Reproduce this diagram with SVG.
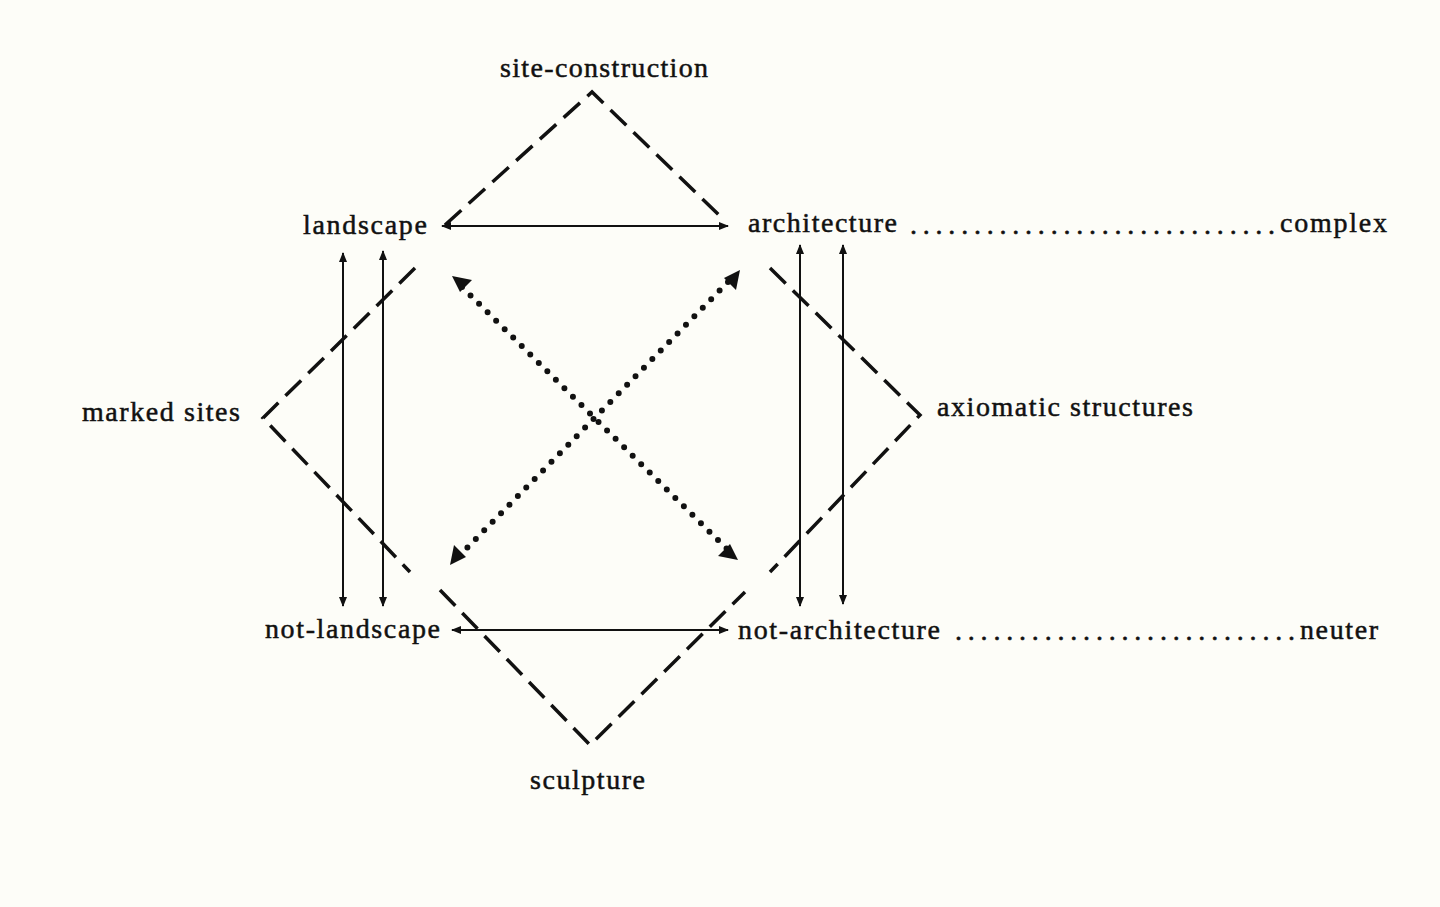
<svg xmlns="http://www.w3.org/2000/svg" width="1440" height="907" viewBox="0 0 1440 907">
<defs>
<marker id="ah" viewBox="0 0 10 10" refX="9" refY="5" markerWidth="10" markerHeight="10" markerUnits="userSpaceOnUse" orient="auto-start-reverse"><path d="M0,1 L10,5 L0,9 z" fill="#111"/></marker>
</defs>
<style>
text{font-family:"Liberation Serif",serif;font-size:28px;fill:#111;stroke:#111;stroke-width:0.5}
.d{fill:none;stroke:#111;stroke-width:3.5;stroke-dasharray:22 10}
.a{stroke:#111;stroke-width:2;fill:none}
.o{fill:none;stroke:#111;stroke-width:6;stroke-dasharray:0 12;stroke-linecap:round}
</style>
<rect width="1440" height="907" fill="#fdfdf8"/>
<g id="connectors">
<polyline class="d" points="445,225 592,92 722,218"/>
<polyline class="d" points="415,268 263,418 410,572"/>
<polyline class="d" points="770,268 920,415 770,572"/>
<polyline class="d" points="440,590 590,745 745,592"/>
<line class="a" x1="442" y1="226" x2="728" y2="226" marker-start="url(#ah)" marker-end="url(#ah)"/>
<line class="a" x1="452" y1="630" x2="728" y2="630" marker-start="url(#ah)" marker-end="url(#ah)"/>
<line class="a" x1="343" y1="253" x2="343" y2="606" marker-start="url(#ah)" marker-end="url(#ah)"/>
<line class="a" x1="383" y1="251" x2="383" y2="606" marker-start="url(#ah)" marker-end="url(#ah)"/>
<line class="a" x1="800" y1="245" x2="800" y2="606" marker-start="url(#ah)" marker-end="url(#ah)"/>
<line class="a" x1="843" y1="245" x2="843" y2="604" marker-start="url(#ah)" marker-end="url(#ah)"/>
<line class="o" x1="462" y1="287" x2="728" y2="550"/>
<line class="o" x1="728" y1="282" x2="462" y2="553"/>
<path d="M452,276 l20,4 -12,12z M738,560 l-20,-4 12,-12z M740,270 l-4,20 -12,-12z M450,565 l4,-20 12,12z" fill="#111"/>
<text x="910" y="234" textLength="365" lengthAdjust="spacing">.............................</text>
<text x="955" y="640" textLength="340" lengthAdjust="spacing">...........................</text>
</g>
<g id="site-construction"><text x="500" y="77" textLength="208">site-construction</text></g>
<g id="landscape"><text x="303" y="234" textLength="124">landscape</text></g>
<g id="architecture"><text x="748" y="232" textLength="149">architecture</text></g>
<g id="complex"><text x="1280" y="232" textLength="107">complex</text></g>
<g id="marked-sites"><text x="82" y="421" textLength="158">marked sites</text></g>
<g id="axiomatic-structures"><text x="937" y="416" textLength="256">axiomatic structures</text></g>
<g id="not-landscape"><text x="265" y="638" textLength="175">not-landscape</text></g>
<g id="not-architecture"><text x="738" y="639" textLength="202">not-architecture</text></g>
<g id="neuter"><text x="1300" y="639" textLength="78">neuter</text></g>
<g id="sculpture"><text x="530" y="789" textLength="115">sculpture</text></g>
</svg>
